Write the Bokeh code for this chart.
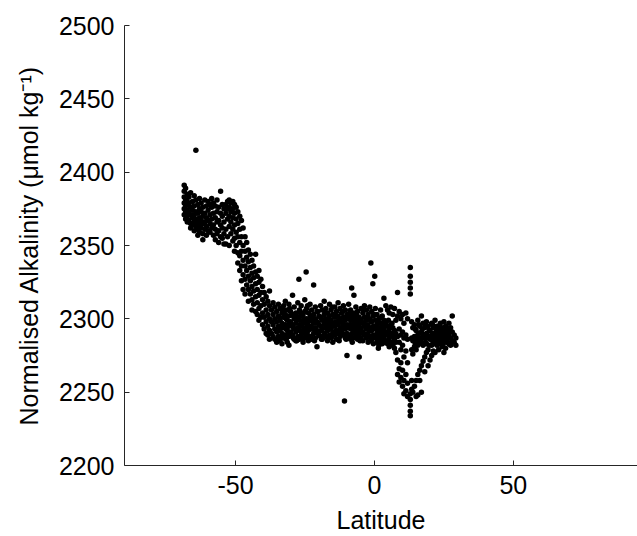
from bokeh.plotting import figure
from bokeh.models import Range1d, FixedTicker, ColumnDataSource
from bokeh.embed import file_html
from bokeh.resources import INLINE

# ---- data: latitude bins and alkalinity readings ----
south_lat = [-68.5, -68.0, -67.4, -66.8, -66.2, -65.5, -64.9, -64.3, -63.6, -63.0,
             -62.4, -61.8, -61.1, -60.5, -59.9, -59.2, -58.6, -58.0, -57.3, -56.7,
             -56.1, -55.4, -54.8, -54.2, -53.5, -52.9, -52.3, -51.7, -51.0, -50.4]
south_alk = [[2391, 2387, 2383, 2379, 2375, 2371], [2389, 2381, 2377, 2373, 2368],
             [2385, 2380, 2374, 2370, 2366], [2383, 2378, 2372, 2367],
             [2386, 2376, 2371, 2365, 2362], [2380, 2374, 2369, 2364],
             [2384, 2377, 2371, 2366, 2360], [2415, 2381, 2373, 2368, 2363],
             [2378, 2372, 2366, 2361, 2357], [2382, 2375, 2369, 2364, 2359],
             [2379, 2373, 2367, 2362], [2376, 2370, 2365, 2358, 2354],
             [2381, 2372, 2366, 2361], [2377, 2369, 2363, 2357],
             [2380, 2374, 2367, 2360], [2378, 2371, 2365, 2359],
             [2382, 2376, 2368, 2362], [2379, 2372, 2364, 2357],
             [2377, 2369, 2361, 2354], [2381, 2373, 2366, 2358],
             [2376, 2367, 2360, 2352], [2387, 2372, 2364, 2356],
             [2378, 2370, 2362, 2355], [2375, 2366, 2358, 2351],
             [2378, 2372, 2361, 2351], [2380, 2375, 2368, 2356],
             [2381, 2376, 2370, 2363, 2350], [2379, 2373, 2366, 2358],
             [2380, 2375, 2369, 2361, 2353], [2378, 2372, 2364, 2355, 2346]]

front_lat = [-49.8, -49.2, -48.5, -47.9, -47.3, -46.6, -46.0, -45.4, -44.7, -44.1,
             -43.5, -42.8, -42.2, -41.6, -40.9, -40.3, -39.7, -39.0, -38.4, -37.8,
             -37.1, -36.5, -35.9, -35.2]
front_alk = [[2376, 2368, 2359, 2350], [2373, 2365, 2356, 2345, 2338],
             [2370, 2361, 2352, 2343, 2333], [2367, 2356, 2346, 2336, 2326],
             [2362, 2350, 2340, 2330, 2320], [2356, 2346, 2336, 2327, 2317],
             [2352, 2342, 2333, 2323], [2347, 2339, 2329, 2320, 2312],
             [2344, 2335, 2326, 2317], [2340, 2331, 2322, 2313, 2306],
             [2336, 2328, 2319, 2310], [2344, 2332, 2324, 2315, 2305],
             [2329, 2320, 2311, 2303], [2333, 2325, 2316, 2307, 2299],
             [2327, 2318, 2309, 2301], [2322, 2313, 2304, 2296],
             [2318, 2310, 2301, 2293], [2315, 2306, 2298, 2290],
             [2312, 2303, 2295, 2289], [2319, 2309, 2300, 2292, 2286],
             [2306, 2298, 2290], [2311, 2303, 2296, 2288],
             [2308, 2300, 2293, 2286], [2305, 2298, 2291, 2284]]

plateau_lat = [-34.6, -34.0, -33.3, -32.7, -32.1, -31.4, -30.8, -30.2, -29.5, -28.9,
               -28.3, -27.6, -27.2, -27.0, -26.4, -25.7, -25.1, -24.6, -24.5, -23.8,
               -23.2, -22.6, -21.9, -21.3, -20.7, -20.0, -19.4, -18.8, -18.1, -17.5,
               -16.9, -16.2, -15.6, -15.0, -14.3, -13.7, -13.1, -12.4, -11.8, -11.2,
               -10.8, -10.5, -9.9, -9.3, -8.6, -8.2, -8.0, -7.4, -6.7, -6.1,
               -5.5, -4.8, -4.2, -3.6, -2.9, -2.3, -1.7, -1.3, -1.0, -0.6,
               -0.4, 0.1, 0.3, 0.9, 1.4, 1.6, 2.2, 2.8, 3.4, 4.1, 4.7]
plateau_alk = [[2310, 2302, 2295, 2288], [2307, 2299, 2292, 2285],
               [2304, 2297, 2290, 2283], [2309, 2301, 2294, 2287],
               [2312, 2303, 2296, 2289], [2306, 2299, 2292, 2284],
               [2310, 2302, 2295, 2288, 2282], [2305, 2298, 2291],
               [2316, 2303, 2296, 2289], [2308, 2300, 2293, 2286],
               [2304, 2297, 2291, 2285], [2311, 2301, 2294, 2288], [2327],
               [2306, 2299, 2292, 2286], [2309, 2302, 2295, 2289],
               [2303, 2297, 2291, 2284], [2313, 2305, 2298, 2290], [2332],
               [2307, 2300, 2293, 2287], [2304, 2298, 2292, 2285],
               [2310, 2301, 2294, 2288], [2306, 2299, 2293, 2286],
               [2323, 2303, 2297, 2290], [2308, 2300, 2294, 2287],
               [2305, 2298, 2292, 2281], [2302, 2296, 2289],
               [2309, 2301, 2295, 2288], [2306, 2299, 2293, 2286],
               [2312, 2303, 2297, 2290], [2307, 2300, 2294, 2288],
               [2304, 2298, 2292, 2285], [2310, 2302, 2296, 2289],
               [2306, 2299, 2293, 2287], [2303, 2297, 2291, 2284],
               [2308, 2301, 2295, 2289], [2305, 2298, 2292, 2286],
               [2311, 2302, 2296, 2290], [2307, 2300, 2294, 2288],
               [2304, 2298, 2292], [2309, 2301, 2295, 2289], [2244],
               [2306, 2299, 2293, 2287], [2303, 2296, 2290, 2275],
               [2310, 2301, 2295, 2288], [2306, 2299, 2293, 2286], [2321],
               [2302, 2296, 2290, 2284], [2316, 2304, 2297, 2291],
               [2308, 2300, 2294, 2288], [2305, 2298, 2292, 2286],
               [2301, 2295, 2289, 2274], [2307, 2299, 2293, 2287],
               [2304, 2297, 2291, 2285], [2309, 2301, 2295, 2289],
               [2306, 2299, 2293, 2287], [2303, 2296, 2290, 2284],
               [2308, 2300, 2294, 2288], [2338], [2305, 2298, 2292, 2286], [2324],
               [2302, 2295, 2289, 2283], [2329], [2307, 2299, 2293, 2287],
               [2303, 2296, 2290, 2284], [2280], [2300, 2294, 2288, 2282],
               [2306, 2297, 2291, 2285], [2302, 2295, 2289, 2283],
               [2314, 2299, 2293, 2287], [2309, 2297, 2291, 2285],
               [2306, 2295, 2289, 2283]]

band_lat = [-34.3, -33.0, -31.8, -30.5, -29.2, -28.0, -26.7, -25.4, -24.1, -22.9,
            -21.6, -20.3, -19.1, -17.8, -16.5, -15.3, -14.0, -12.7, -11.5, -10.2,
            -8.9, -7.7, -6.4, -5.2, -3.9, -2.6, -1.4, -0.1, 1.2, 2.5, 3.7, 5.0,
            6.3, 14.7, 16.0, 17.2, 18.4, 19.7, 20.9, 22.2, 23.4, 24.6, 25.9, 27.1]
band_alk = [[2301, 2294, 2287], [2306, 2296, 2289], [2300, 2293, 2286],
            [2307, 2297, 2290], [2302, 2294, 2287], [2299, 2292, 2285],
            [2304, 2296, 2288], [2300, 2294, 2287], [2309, 2296, 2289],
            [2302, 2295, 2288], [2299, 2293, 2285], [2305, 2297, 2290],
            [2300, 2292, 2286], [2304, 2296, 2289], [2300, 2293, 2287],
            [2308, 2295, 2288], [2302, 2296, 2290], [2299, 2291, 2285],
            [2305, 2297, 2290], [2301, 2294, 2286], [2304, 2296, 2289],
            [2300, 2293, 2287], [2303, 2296, 2290], [2298, 2292, 2285],
            [2306, 2297, 2290], [2301, 2294, 2288], [2299, 2292, 2285],
            [2303, 2295, 2288], [2298, 2291, 2285], [2301, 2293, 2286],
            [2296, 2290, 2284], [2299, 2291, 2285], [2297, 2290, 2284],
            [2293, 2287, 2283], [2296, 2290, 2284], [2293, 2287, 2283],
            [2295, 2289, 2284], [2292, 2287, 2282], [2296, 2290, 2285],
            [2293, 2287, 2283], [2295, 2290, 2284], [2292, 2286, 2282],
            [2294, 2289, 2284], [2292, 2287, 2283]]

north_lat = [5.3, 5.9, 6.6, 7.2, 7.7, 8.3, 8.9, 9.5, 10.1, 10.6, 11.3, 11.9, 12.9,
             13.4, 13.8, 14.4, 15.0, 15.6, 16.3, 16.9, 17.5, 18.1, 18.7, 19.3,
             20.0, 20.6, 21.2, 21.8, 22.5, 23.1, 23.7, 24.3, 25.0, 25.6, 26.2,
             26.8, 27.4, 28.0, 28.7, 29.3]
north_alk = [[2304, 2293, 2287, 2281], [2308, 2296, 2290, 2284],
             [2303, 2294, 2288, 2282], [2307, 2292, 2286, 2280],
             [2299, 2290, 2284, 2277], [2318, 2302, 2288, 2272, 2262],
             [2305, 2293, 2284, 2266, 2257], [2300, 2289, 2279, 2270, 2260],
             [2303, 2291, 2282, 2265, 2254], [2297, 2287, 2274, 2258, 2249],
             [2304, 2289, 2278, 2262, 2251], [2300, 2286, 2270, 2256, 2247],
             [2335, 2329, 2325, 2321, 2317, 2249, 2245, 2241, 2237, 2234],
             [2298, 2287, 2279, 2258, 2252], [2294, 2285, 2276, 2250],
             [2296, 2288, 2281, 2254], [2292, 2286, 2279, 2258, 2247],
             [2299, 2289, 2282, 2262, 2248], [2295, 2287, 2265, 2258],
             [2302, 2291, 2284, 2268, 2250], [2297, 2289, 2282, 2271],
             [2294, 2287, 2274, 2264], [2298, 2290, 2283, 2277],
             [2295, 2288, 2279, 2268], [2292, 2286, 2272],
             [2297, 2289, 2282, 2275], [2294, 2287, 2278],
             [2299, 2290, 2284, 2277], [2295, 2288, 2282], [2292, 2286, 2279],
             [2297, 2289, 2283], [2294, 2287, 2281], [2298, 2290, 2284, 2277],
             [2295, 2288, 2280], [2292, 2286], [2297, 2289, 2283],
             [2294, 2287, 2282], [2302, 2291, 2285], [2289, 2284], [2287, 2282]]

x_ticks = [-50, 0, 50]
x_tick_labels = {-50: "-50", 0: "0", 50: "50"}
y_ticks = [2200, 2250, 2300, 2350, 2400, 2450, 2500]

lat, alk = [], []
for lats, alks in [(south_lat, south_alk), (front_lat, front_alk),
                   (plateau_lat, plateau_alk), (band_lat, band_alk),
                   (north_lat, north_alk)]:
    for la, vals in zip(lats, alks):
        for v in vals:
            lat.append(la)
            alk.append(v)

src = ColumnDataSource(data=dict(lat=lat, alk=alk))

FONT = "Liberation Sans"

p = figure(width=637, height=536, output_backend="svg", toolbar_location=None,
           x_range=Range1d(-90, 94.7), y_range=Range1d(2200, 2500),
           min_border_left=124, min_border_right=0, min_border_top=25,
           min_border_bottom=71)
p.outline_line_color = None
p.grid.visible = False
p.background_fill_color = "white"
p.border_fill_color = "white"

p.scatter("lat", "alk", source=src, size=5.5, color="black", line_color=None)

p.xaxis.ticker = FixedTicker(ticks=x_ticks)
p.xaxis.major_label_overrides = x_tick_labels
p.yaxis.ticker = FixedTicker(ticks=y_ticks)
for ax in (p.xaxis[0], p.yaxis[0]):
    ax.major_tick_in = 5
    ax.major_tick_out = 0
    ax.minor_tick_line_color = None
    ax.axis_line_color = "#262626"
    ax.major_tick_line_color = "#262626"
    ax.major_label_text_font = FONT
    ax.major_label_text_font_size = "25px"
    ax.major_label_text_color = "black"
    ax.axis_label_text_font = FONT
    ax.axis_label_text_font_size = "25px"
    ax.axis_label_text_font_style = "normal"
    ax.axis_label_text_color = "black"

p.xaxis.axis_label = "Latitude"
p.yaxis.axis_label = "Normalised Alkalinity (\u03bcmol kg\u207b\u00b9)"
p.xaxis.major_label_standoff = 10
p.yaxis.major_label_standoff = 10
p.xaxis.axis_label_standoff = 9
p.yaxis.axis_label_standoff = 13

open("out.html", "w").write(file_html(p, INLINE))
